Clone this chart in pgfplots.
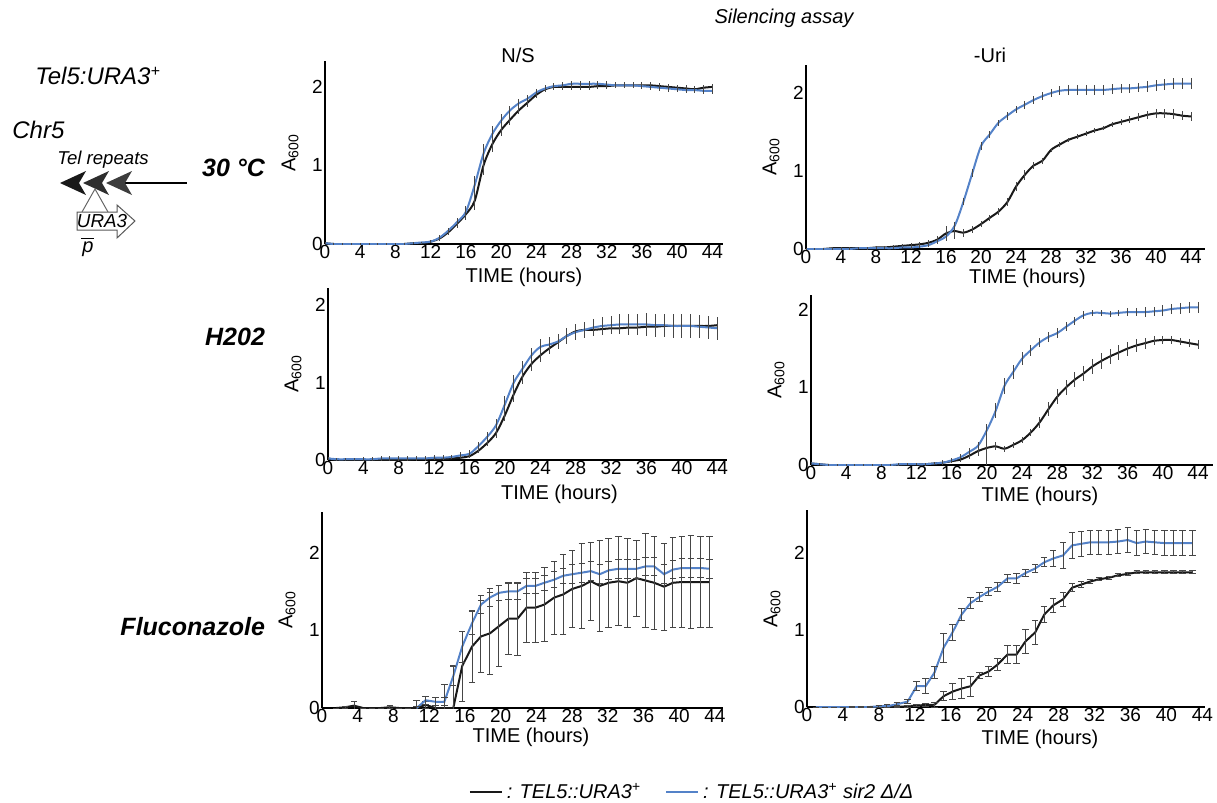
\documentclass[border=0pt]{standalone}
\usepackage{fontspec}
\setmainfont{Liberation Sans}
\usepackage{pgfplots}
\usepackage{pgfplotstable}
\pgfplotsset{compat=1.18}

\definecolor{blu}{RGB}{84,130,200}
\definecolor{blk}{RGB}{25,25,25}
\definecolor{ebar}{RGB}{70,70,70}

% columns: time, black strain (k, error), sir2 strain (b, error)
\pgfplotstableread{
t k ke b be
0 0.01 0.01 0.01 0.01
1 0.00 0.01 0.00 0.01
2 0.00 0.01 0.00 0.01
3 0.00 0.01 0.00 0.01
4 0.00 0.01 0.00 0.01
5 0.00 0.01 0.00 0.01
6 0.00 0.01 0.00 0.01
7 0.00 0.01 0.00 0.01
8 0.00 0.01 0.00 0.01
9 0.00 0.01 0.00 0.01
10 0.01 0.01 0.01 0.01
11 0.01 0.01 0.02 0.01
12 0.03 0.02 0.03 0.02
13 0.07 0.03 0.08 0.03
14 0.15 0.04 0.17 0.04
15 0.26 0.05 0.28 0.05
16 0.38 0.07 0.41 0.07
17 0.55 0.12 0.75 0.12
18 1.00 0.12 1.15 0.12
19 1.27 0.10 1.40 0.10
20 1.45 0.08 1.57 0.08
21 1.58 0.06 1.70 0.06
22 1.70 0.05 1.79 0.05
23 1.80 0.05 1.85 0.05
24 1.90 0.04 1.93 0.04
25 1.97 0.04 1.98 0.04
26 2.00 0.04 2.01 0.04
27 2.00 0.04 2.02 0.04
28 2.00 0.04 2.04 0.04
29 2.00 0.04 2.04 0.04
30 2.00 0.04 2.04 0.04
31 2.01 0.04 2.04 0.04
32 2.01 0.04 2.03 0.04
33 2.02 0.04 2.02 0.04
34 2.02 0.04 2.02 0.04
35 2.02 0.04 2.02 0.04
36 2.02 0.04 2.01 0.04
37 2.02 0.04 2.00 0.04
38 2.01 0.04 1.99 0.04
39 2.00 0.04 1.98 0.04
40 1.99 0.04 1.97 0.04
41 1.98 0.04 1.96 0.04
42 1.97 0.04 1.96 0.04
43 1.99 0.04 1.95 0.04
44 2.00 0.04 1.95 0.04
}\tabA

\pgfplotstableread{
t k ke b be
0 0.00 0.01 0.00 0.01
1 0.00 0.01 0.00 0.01
2 0.00 0.01 0.00 0.01
3 0.01 0.01 0.00 0.01
4 0.01 0.01 0.00 0.01
5 0.01 0.01 0.00 0.01
6 0.01 0.01 0.01 0.01
7 0.01 0.02 0.01 0.01
8 0.02 0.02 0.01 0.01
9 0.02 0.02 0.01 0.01
10 0.03 0.02 0.01 0.01
11 0.04 0.02 0.02 0.01
12 0.05 0.03 0.02 0.02
13 0.06 0.03 0.03 0.02
14 0.08 0.04 0.05 0.03
15 0.12 0.05 0.10 0.04
16 0.20 0.10 0.16 0.05
17 0.23 0.10 0.30 0.05
18 0.21 0.05 0.61 0.05
19 0.25 0.04 0.97 0.05
20 0.32 0.04 1.32 0.05
21 0.40 0.04 1.47 0.04
22 0.48 0.04 1.62 0.04
23 0.60 0.05 1.71 0.05
24 0.80 0.06 1.79 0.05
25 0.95 0.06 1.85 0.05
26 1.07 0.05 1.91 0.05
27 1.13 0.04 1.96 0.05
28 1.27 0.03 2.00 0.05
29 1.34 0.03 2.03 0.06
30 1.40 0.03 2.04 0.06
31 1.44 0.03 2.04 0.06
32 1.48 0.03 2.04 0.06
33 1.52 0.03 2.04 0.06
34 1.55 0.03 2.04 0.06
35 1.60 0.03 2.05 0.06
36 1.63 0.04 2.06 0.06
37 1.66 0.05 2.06 0.06
38 1.69 0.05 2.07 0.06
39 1.72 0.05 2.08 0.07
40 1.74 0.06 2.10 0.07
41 1.74 0.06 2.11 0.07
42 1.73 0.06 2.12 0.07
43 1.71 0.06 2.12 0.07
44 1.70 0.06 2.12 0.07
}\tabB

\pgfplotstableread{
t k ke b be
0 0.02 0.01 0.02 0.02
1 0.00 0.01 0.01 0.01
2 0.00 0.01 0.01 0.01
3 0.00 0.01 0.01 0.02
4 0.00 0.01 0.01 0.03
5 0.00 0.01 0.01 0.03
6 0.00 0.01 0.02 0.03
7 0.00 0.01 0.02 0.03
8 0.00 0.01 0.02 0.03
9 0.00 0.01 0.02 0.03
10 0.01 0.01 0.02 0.03
11 0.01 0.01 0.02 0.03
12 0.01 0.01 0.03 0.03
13 0.01 0.01 0.03 0.03
14 0.02 0.01 0.04 0.03
15 0.03 0.02 0.06 0.04
16 0.05 0.02 0.08 0.05
17 0.12 0.03 0.18 0.05
18 0.22 0.04 0.30 0.06
19 0.35 0.06 0.45 0.08
20 0.58 0.08 0.72 0.10
21 0.85 0.10 1.00 0.10
22 1.08 0.10 1.18 0.10
23 1.24 0.09 1.35 0.10
24 1.35 0.08 1.46 0.10
25 1.44 0.07 1.49 0.10
26 1.52 0.06 1.53 0.10
27 1.60 0.05 1.60 0.10
28 1.66 0.05 1.65 0.10
29 1.68 0.05 1.68 0.10
30 1.68 0.05 1.71 0.11
31 1.69 0.05 1.73 0.12
32 1.70 0.05 1.74 0.12
33 1.70 0.05 1.75 0.13
34 1.71 0.05 1.75 0.14
35 1.71 0.05 1.75 0.14
36 1.72 0.05 1.75 0.15
37 1.72 0.05 1.74 0.15
38 1.73 0.05 1.74 0.15
39 1.73 0.05 1.73 0.15
40 1.73 0.05 1.73 0.15
41 1.73 0.05 1.73 0.15
42 1.73 0.05 1.72 0.15
43 1.73 0.05 1.71 0.15
44 1.74 0.05 1.70 0.15
}\tabC

\pgfplotstableread{
t k ke b be
0 0.02 0.01 0.02 0.01
1 0.01 0.01 0.01 0.01
2 0.00 0.01 0.00 0.01
3 0.00 0.01 0.00 0.01
4 0.00 0.01 0.00 0.01
5 0.00 0.01 0.00 0.01
6 0.00 0.01 0.00 0.01
7 0.00 0.01 0.00 0.01
8 0.00 0.01 0.00 0.01
9 0.00 0.01 0.00 0.01
10 0.00 0.01 0.01 0.01
11 0.01 0.01 0.01 0.01
12 0.01 0.01 0.01 0.01
13 0.01 0.01 0.01 0.02
14 0.02 0.01 0.02 0.02
15 0.03 0.02 0.03 0.03
16 0.05 0.02 0.06 0.03
17 0.07 0.03 0.10 0.04
18 0.12 0.04 0.17 0.05
19 0.18 0.06 0.25 0.05
20 0.22 0.22 0.45 0.08
21 0.24 0.05 0.70 0.10
22 0.21 0.04 1.02 0.10
23 0.26 0.04 1.20 0.09
24 0.32 0.04 1.37 0.08
25 0.42 0.05 1.48 0.07
26 0.55 0.07 1.58 0.06
27 0.72 0.09 1.65 0.06
28 0.88 0.10 1.70 0.06
29 1.00 0.10 1.78 0.06
30 1.10 0.10 1.86 0.05
31 1.18 0.10 1.93 0.05
32 1.27 0.10 1.96 0.04
33 1.34 0.10 1.96 0.04
34 1.40 0.10 1.95 0.04
35 1.45 0.10 1.96 0.04
36 1.50 0.09 1.97 0.05
37 1.54 0.08 1.97 0.05
38 1.57 0.07 1.97 0.06
39 1.60 0.06 1.98 0.06
40 1.61 0.05 1.99 0.07
41 1.61 0.05 2.01 0.07
42 1.59 0.05 2.02 0.07
43 1.57 0.05 2.03 0.07
44 1.55 0.06 2.03 0.07
}\tabD

\pgfplotstableread{
t k ke b be
1.6 0.00 0.00 nan nan
2.6 0.01 0.01 nan nan
3.6 0.03 0.05 nan nan
4.6 0.00 0.00 nan nan
5.6 0.00 0.00 nan nan
6.6 0.00 0.00 nan nan
7.6 0.01 0.02 nan nan
8.6 0.00 0.00 nan nan
9.6 0.00 0.00 nan nan
10.6 0.00 0.10 0.00 0.02
11.6 0.04 0.05 0.10 0.05
12.7 0.00 0.03 0.08 0.05
13.7 0.00 0.30 0.08 0.05
14.7 0.00 0.55 0.41 0.12
15.7 0.54 0.45 0.79 0.20
16.8 0.79 0.46 1.09 0.15
17.8 0.92 0.46 1.33 0.12
18.8 0.96 0.53 1.42 0.12
19.8 1.05 0.52 1.48 0.10
20.9 1.15 0.46 1.50 0.10
21.9 1.15 0.47 1.50 0.10
22.9 1.29 0.45 1.57 0.10
23.9 1.29 0.45 1.57 0.10
24.9 1.33 0.48 1.61 0.10
26.0 1.42 0.47 1.65 0.10
27.0 1.46 0.51 1.70 0.10
28.0 1.53 0.49 1.72 0.12
29.1 1.57 0.55 1.74 0.12
30.1 1.63 0.50 1.76 0.12
31.1 1.57 0.58 1.72 0.12
32.1 1.61 0.57 1.77 0.12
33.2 1.63 0.57 1.79 0.12
34.2 1.61 0.57 1.79 0.12
35.2 1.67 0.49 1.79 0.12
36.2 1.64 0.60 1.82 0.12
37.2 1.61 0.60 1.82 0.12
38.3 1.56 0.56 1.72 0.12
39.3 1.61 0.58 1.78 0.12
40.3 1.62 0.58 1.80 0.12
41.3 1.62 0.60 1.80 0.12
42.4 1.62 0.58 1.80 0.12
43.4 1.62 0.59 1.79 0.12
}\tabE

\pgfplotstableread{
t k ke b be
1.0 0.00 0.00 0.00 0.00
2.0 0.00 0.00 0.00 0.00
3.0 0.00 0.00 0.00 0.00
4.0 0.00 0.00 0.00 0.00
5.0 0.00 0.00 0.00 0.01
6.0 0.00 0.00 0.00 0.01
7.0 0.00 0.00 0.00 0.01
8.0 0.00 0.00 0.01 0.01
8.9 0.00 0.01 0.01 0.02
10.0 0.00 0.01 0.035 0.02
11.2 0.01 0.01 0.07 0.03
12.2 0.02 0.01 0.27 0.06
13.2 0.025 0.02 0.27 0.10
14.2 0.03 0.03 0.45 0.08
15.2 0.14 0.06 0.77 0.19
16.2 0.20 0.10 0.97 0.10
17.2 0.24 0.13 1.20 0.08
18.2 0.27 0.13 1.35 0.07
19.2 0.41 0.04 1.43 0.06
20.2 0.46 0.07 1.50 0.05
21.2 0.55 0.08 1.56 0.06
22.3 0.68 0.12 1.67 0.05
23.3 0.68 0.12 1.67 0.06
24.3 0.85 0.16 1.74 0.05
25.4 0.97 0.16 1.80 0.05
26.4 1.20 0.10 1.88 0.06
27.4 1.32 0.09 1.93 0.10
28.5 1.40 0.09 1.97 0.17
29.5 1.55 0.05 2.10 0.17
30.5 1.59 0.04 2.12 0.16
31.5 1.63 0.03 2.14 0.16
32.5 1.66 0.02 2.14 0.16
33.6 1.68 0.02 2.14 0.16
34.6 1.71 0.02 2.15 0.16
35.7 1.73 0.02 2.17 0.16
36.7 1.75 0.02 2.13 0.16
37.7 1.75 0.02 2.15 0.16
38.7 1.75 0.02 2.14 0.16
39.8 1.75 0.02 2.13 0.16
40.8 1.75 0.02 2.13 0.16
41.8 1.75 0.02 2.13 0.16
42.9 1.75 0.02 2.13 0.16
}\tabF

\pgfplotsset{
  panel/.style={
    scale only axis, anchor=south west,
    axis x line*=bottom, axis y line*=left,
    axis line style={-, line width=0.9pt, black},
    ymin=0, xtick={0,4,...,44}, ytick={0,1,2},
    major tick length=0pt,
    /pgf/number format/assume math mode=true,
    tick label style={font=\fontsize{9.5}{11}\selectfont, inner sep=1pt},
    xticklabel style={inner sep=0.5pt},
    xlabel={TIME (hours)}, ylabel={A\textsubscript{600}},
    label style={font=\fontsize{10}{12}\selectfont},
    ylabel style={at={([xshift=-17.5pt]axis description cs:0,0.5)}, anchor=center},
  },
  xlab/.style 2 args={xlabel style={at={([xshift=#1,yshift=#2]axis description cs:0.5,0)}, anchor=center}},
  ebars/.style={forget plot,
    error bars/y dir=both, error bars/y explicit,
    error bars/error bar style={ebar, line width=0.5pt},
    error bars/error mark=none},
  kline/.style={blk, line width=1pt, ebars},
  bline/.style={blu, line width=1pt, ebars},
  capped/.style={error bars/error mark=-,
    error bars/error mark options={ebar, rotate=90, mark size=1.6pt, line width=0.5pt}},
}

\begin{document}
\begin{tikzpicture}
\useasboundingbox (0,0) rectangle (608.5pt,-401.5pt);

\begin{scope}[x=0.5pt, y=-0.5pt]
  \node[font=\fontsize{10}{12}\selectfont\itshape] at (784,18) {Silencing assay};
  \node[font=\fontsize{10}{12}\selectfont] at (518,55) {N/S};
  \node[font=\fontsize{10}{12}\selectfont] at (990,55) {-Uri};

  \node[anchor=east, font=\fontsize{12.5}{15}\selectfont\bfseries\itshape] at (272,168) {30 °C};
  \node[anchor=east, font=\fontsize{12.5}{15}\selectfont\bfseries\itshape] at (272,337) {H202};
  \node[anchor=east, font=\fontsize{12.5}{15}\selectfont\bfseries\itshape] at (272,627) {Fluconazole};

  \node[anchor=west, inner sep=0pt, font=\fontsize{12}{14}\selectfont\itshape] at (35,76) {Tel5:URA3\textsuperscript{+}};
  \node[anchor=west, inner sep=0pt, font=\fontsize{12}{14}\selectfont\itshape] at (12,130) {Chr5};
  \node[anchor=west, inner sep=0pt, font=\fontsize{9.3}{11}\selectfont\itshape] at (57,160) {Tel repeats};

  % telomere repeats and the inserted URA3 reporter
  \draw[line width=0.6pt] (120,183) -- (187,183);
  \fill[black!90] (60,183) -- (86,171) -- (79,183) -- (86,195) -- cycle;
  \fill[black!82] (83,183) -- (109,171) -- (102,183) -- (109,195) -- cycle;
  \fill[black!76] (106,183) -- (132,171) -- (125,183) -- (132,195) -- cycle;
  \draw[black!60, line width=0.5pt] (82,212) -- (95,189) -- (108,212);
  \draw[black!65, line width=0.5pt, fill=white] (77,212) -- (117,212) -- (117,205) -- (135,221)
    -- (117,238) -- (117,230) -- (77,230) -- cycle;
  \node[font=\fontsize{9.4}{11}\selectfont\itshape, inner sep=0pt] at (102,221) {URA3};
  \node[font=\fontsize{10}{12}\selectfont\itshape, inner sep=0pt] at (88,249) {p};
  \draw[line width=0.5pt] (81,238) -- (94,238);
\end{scope}

% 30 C, N/S
\begin{axis}[panel, at={(162.5pt,-122pt)}, width=199pt, height=91.5pt,
  xmin=0, xmax=45.2, ymax=2.33, xlab={0pt}{-16.5pt}]
  \addplot[kline, smooth] table[x=t, y=k, y error=ke] {\tabA};
  \addplot[bline, smooth] table[x=t, y=b, y error=be] {\tabA};
\end{axis}

% 30 C, -Uri
\begin{axis}[panel, at={(403pt,-124.5pt)}, width=199.5pt, height=92pt,
  xmin=0, xmax=45.6, ymax=2.36, xlab={11pt}{-14.5pt}]
  \addplot[kline, smooth] table[x=t, y=k, y error=ke] {\tabB};
  \addplot[bline, smooth] table[x=t, y=b, y error=be] {\tabB};
\end{axis}

% H2O2, N/S
\begin{axis}[panel, at={(164pt,-230pt)}, width=199.5pt, height=86pt,
  xmin=0, xmax=45.1, ymax=2.22, xlab={16pt}{-17pt}]
  \addplot[kline, smooth] table[x=t, y=k, y error=ke] {\tabC};
  \addplot[bline, smooth] table[x=t, y=b, y error=be] {\tabC};
\end{axis}

% H2O2, -Uri
\begin{axis}[panel, at={(405.5pt,-232.5pt)}, width=201pt, height=85pt,
  xmin=0, xmax=45.7, ymax=2.19, xlab={14pt}{-15.5pt}]
  \addplot[kline, smooth] table[x=t, y=k, y error=ke] {\tabD};
  \addplot[bline, smooth] table[x=t, y=b, y error=be] {\tabD};
\end{axis}

% Fluconazole, N/S (carries the legend)
\begin{axis}[panel, at={(161pt,-354pt)}, width=200.5pt, height=98pt,
  xmin=0, xmax=44.9, ymax=2.52, xlab={4.25pt}{-14.5pt},
  legend columns=2,
  legend style={draw=none, fill=none, at={(rel axis cs:0.365,-0.43)}, anchor=west,
    font=\fontsize{10}{12}\selectfont\itshape, inner sep=0pt,
    /tikz/every even column/.append style={column sep=10pt}},
  legend image code/.code={\draw[#1] (0pt,0pt) -- (16pt,0pt);}]
  \addlegendimage{blk, line width=1pt}
  \addlegendentry{: TEL5::URA3\textsuperscript{+}}
  \addlegendimage{blu, line width=1pt}
  \addlegendentry{: TEL5::URA3\textsuperscript{+} sir2 Δ/Δ}
  \addplot[kline, capped] table[x=t, y=k, y error=ke] {\tabE};
  \addplot[bline, capped] table[x=t, y=b, y error=be] {\tabE};
\end{axis}

% Fluconazole, -Uri
\begin{axis}[panel, at={(403.5pt,-353.5pt)}, width=199pt, height=98.5pt,
  xmin=0, xmax=44.3, ymax=2.56, xlab={17pt}{-16pt}]
  \addplot[kline, capped] table[x=t, y=k, y error=ke] {\tabF};
  \addplot[bline, capped] table[x=t, y=b, y error=be] {\tabF};
\end{axis}
\end{tikzpicture}
\end{document}
